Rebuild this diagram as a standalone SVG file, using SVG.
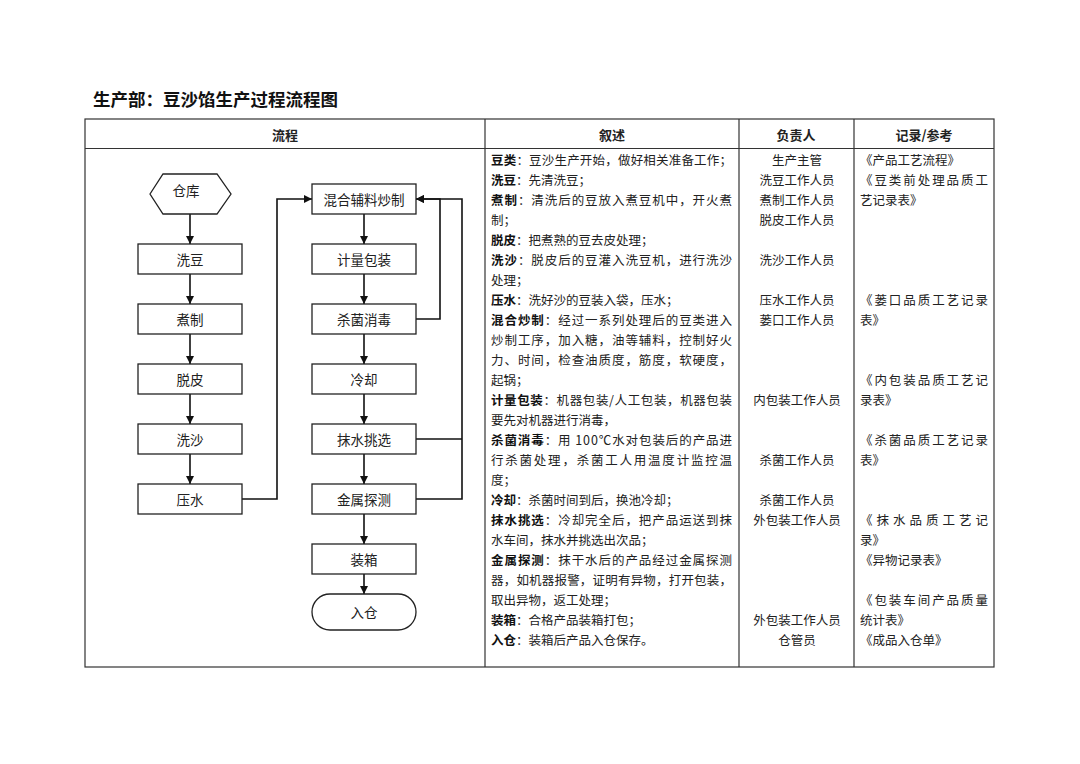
<svg xmlns="http://www.w3.org/2000/svg" width="1080" height="764" viewBox="0 0 1080 764">
<defs>
<marker id="ah" viewBox="0 0 10 10" refX="10" refY="5" markerWidth="8" markerHeight="8" markerUnits="userSpaceOnUse" orient="auto">
<path d="M0,0 L10,5 L0,10 z" fill="#111"/>
</marker>
<style>
text{font-family:"Noto Sans CJK SC","Noto Sans",sans-serif;fill:#222;}
.title{font-size:17.5px;font-weight:bold;fill:#111;}
.hd{font-size:13px;font-weight:bold;text-anchor:middle;dominant-baseline:central;}
.nd{font-size:13.5px;text-anchor:middle;dominant-baseline:central;}
.box{fill:#fff;stroke:#222;stroke-width:1.3;}
.grid{fill:none;stroke:#333;stroke-width:1.2;}
.conn path{fill:none;stroke:#111;stroke-width:1.6;}
.ds{font-size:12.5px;dominant-baseline:central;}
.ds tspan.b{font-weight:bold;fill:#111;}
.rp{font-size:12.5px;text-anchor:middle;dominant-baseline:central;}
.rc{font-size:12.5px;dominant-baseline:central;}
</style>
</defs>
<rect width="1080" height="764" fill="#fff"/>
<text class="title" x="93" y="106">生产部：豆沙馅生产过程流程图</text>

<g id="table">
<rect class="grid" x="85" y="119" width="909" height="548"/>
<line class="grid" x1="85" y1="148.5" x2="994" y2="148.5"/>
<line class="grid" x1="485" y1="119" x2="485" y2="667"/>
<line class="grid" x1="739" y1="119" x2="739" y2="667"/>
<line class="grid" x1="854" y1="119" x2="854" y2="667"/>
<text class="hd" x="285" y="134">流程</text>
<text class="hd" x="612" y="134">叙述</text>
<text class="hd" x="796" y="134">负责人</text>
<text class="hd" x="924" y="134">记录/参考</text>
</g>

<g class="conn" id="connectors">
<path d="M190,214 V244" marker-end="url(#ah)"/>
<path d="M190,274 V304" marker-end="url(#ah)"/>
<path d="M190,334 V364" marker-end="url(#ah)"/>
<path d="M190,394 V424" marker-end="url(#ah)"/>
<path d="M190,454 V484" marker-end="url(#ah)"/>
<path d="M242,499 H277 V199 H312" marker-end="url(#ah)"/>
<path d="M364,214 V244" marker-end="url(#ah)"/>
<path d="M364,274 V304" marker-end="url(#ah)"/>
<path d="M364,334 V364" marker-end="url(#ah)"/>
<path d="M364,394 V424" marker-end="url(#ah)"/>
<path d="M364,454 V484" marker-end="url(#ah)"/>
<path d="M364,514 V544" marker-end="url(#ah)"/>
<path d="M364,574 V594" marker-end="url(#ah)"/>
<path d="M416,319 H440 V199 H416" marker-end="url(#ah)"/>
<path d="M416,499 H462 V199 H416" marker-end="url(#ah)"/>
<path d="M416,439 H462"/>
</g>

<g id="n-cangku"><polygon class="box" points="150,194 163,174 217,174 231,194 217,214 163,214"/><text class="nd" x="186" y="190">仓库</text></g>
<g id="n-xidou"><rect class="box" x="138" y="244" width="104" height="30"/><text class="nd" x="190" y="259">洗豆</text></g>
<g id="n-zhuzhi"><rect class="box" x="138" y="304" width="104" height="30"/><text class="nd" x="190" y="319">煮制</text></g>
<g id="n-tuopi"><rect class="box" x="138" y="364" width="104" height="30"/><text class="nd" x="190" y="379">脱皮</text></g>
<g id="n-xisha"><rect class="box" x="138" y="424" width="104" height="30"/><text class="nd" x="190" y="439">洗沙</text></g>
<g id="n-yashui"><rect class="box" x="138" y="484" width="104" height="30"/><text class="nd" x="190" y="499">压水</text></g>
<g id="n-chaozhi"><rect class="box" x="312" y="184" width="104" height="30"/><text class="nd" x="364" y="199">混合辅料炒制</text></g>
<g id="n-baozhuang"><rect class="box" x="312" y="244" width="104" height="30"/><text class="nd" x="364" y="259">计量包装</text></g>
<g id="n-shajun"><rect class="box" x="312" y="304" width="104" height="30"/><text class="nd" x="364" y="319">杀菌消毒</text></g>
<g id="n-lengque"><rect class="box" x="312" y="364" width="104" height="30"/><text class="nd" x="364" y="379">冷却</text></g>
<g id="n-moshui"><rect class="box" x="312" y="424" width="104" height="30"/><text class="nd" x="364" y="439">抹水挑选</text></g>
<g id="n-jinshu"><rect class="box" x="312" y="484" width="104" height="30"/><text class="nd" x="364" y="499">金属探测</text></g>
<g id="n-zhuangxiang"><rect class="box" x="312" y="544" width="104" height="30"/><text class="nd" x="364" y="559">装箱</text></g>
<g id="n-rucang"><rect class="box" x="312" y="594" width="104" height="36" rx="18" ry="18"/><text class="nd" x="364" y="612">入仓</text></g>

<g id="description">
<text class="ds" x="491" y="159" textLength="241" lengthAdjust="spacing"><tspan class="b">豆类</tspan>：豆沙生产开始，做好相关准备工作；</text>
<text class="ds" x="491" y="179"><tspan class="b">洗豆</tspan>：先清洗豆；</text>
<text class="ds" x="491" y="199" textLength="241" lengthAdjust="spacing"><tspan class="b">煮制</tspan>：清洗后的豆放入煮豆机中，开火煮</text>
<text class="ds" x="491" y="219">制；</text>
<text class="ds" x="491" y="239"><tspan class="b">脱皮</tspan>：把煮熟的豆去皮处理；</text>
<text class="ds" x="491" y="259" textLength="241" lengthAdjust="spacing"><tspan class="b">洗沙</tspan>：脱皮后的豆灌入洗豆机，进行洗沙</text>
<text class="ds" x="491" y="279">处理；</text>
<text class="ds" x="491" y="299"><tspan class="b">压水</tspan>：洗好沙的豆装入袋，压水；</text>
<text class="ds" x="491" y="319" textLength="241" lengthAdjust="spacing"><tspan class="b">混合炒制</tspan>：经过一系列处理后的豆类进入</text>
<text class="ds" x="491" y="339" textLength="241" lengthAdjust="spacing">炒制工序，加入糖，油等辅料，控制好火</text>
<text class="ds" x="491" y="359" textLength="241" lengthAdjust="spacing">力、时间，检查油质度，筋度，软硬度，</text>
<text class="ds" x="491" y="379">起锅；</text>
<text class="ds" x="491" y="399" textLength="241" lengthAdjust="spacing"><tspan class="b">计量包装</tspan>：机器包装/人工包装，机器包装</text>
<text class="ds" x="491" y="419">要先对机器进行消毒，</text>
<text class="ds" x="491" y="439" textLength="241" lengthAdjust="spacing"><tspan class="b">杀菌消毒</tspan>：用 100℃水对包装后的产品进</text>
<text class="ds" x="491" y="459" textLength="241" lengthAdjust="spacing">行杀菌处理，杀菌工人用温度计监控温</text>
<text class="ds" x="491" y="479">度；</text>
<text class="ds" x="491" y="499"><tspan class="b">冷却</tspan>：杀菌时间到后，换池冷却；</text>
<text class="ds" x="491" y="519" textLength="241" lengthAdjust="spacing"><tspan class="b">抹水挑选</tspan>：冷却完全后，把产品运送到抹</text>
<text class="ds" x="491" y="539">水车间，抹水并挑选出次品；</text>
<text class="ds" x="491" y="559" textLength="241" lengthAdjust="spacing"><tspan class="b">金属探测</tspan>：抹干水后的产品经过金属探测</text>
<text class="ds" x="491" y="579" textLength="241" lengthAdjust="spacing">器，如机器报警，证明有异物，打开包装，</text>
<text class="ds" x="491" y="599">取出异物，返工处理；</text>
<text class="ds" x="491" y="619"><tspan class="b">装箱</tspan>：合格产品装箱打包；</text>
<text class="ds" x="491" y="639"><tspan class="b">入仓</tspan>：装箱后产品入仓保存。</text>
</g>

<g id="responsible">
<text class="rp" x="797" y="159">生产主管</text>
<text class="rp" x="797" y="179">洗豆工作人员</text>
<text class="rp" x="797" y="199">煮制工作人员</text>
<text class="rp" x="797" y="219">脱皮工作人员</text>
<text class="rp" x="797" y="259">洗沙工作人员</text>
<text class="rp" x="797" y="299">压水工作人员</text>
<text class="rp" x="797" y="319">蒌口工作人员</text>
<text class="rp" x="797" y="399">内包装工作人员</text>
<text class="rp" x="797" y="459">杀菌工作人员</text>
<text class="rp" x="797" y="499">杀菌工作人员</text>
<text class="rp" x="797" y="519">外包装工作人员</text>
<text class="rp" x="797" y="619">外包装工作人员</text>
<text class="rp" x="797" y="639">仓管员</text>
</g>

<g id="records">
<text class="rc" x="860" y="159">《产品工艺流程》</text>
<text class="rc" x="860" y="179" textLength="128" lengthAdjust="spacing">《豆类前处理品质工</text>
<text class="rc" x="860" y="199">艺记录表》</text>
<text class="rc" x="860" y="299" textLength="128" lengthAdjust="spacing">《蒌口品质工艺记录</text>
<text class="rc" x="860" y="319">表》</text>
<text class="rc" x="860" y="379" textLength="128" lengthAdjust="spacing">《内包装品质工艺记</text>
<text class="rc" x="860" y="399">录表》</text>
<text class="rc" x="860" y="439" textLength="128" lengthAdjust="spacing">《杀菌品质工艺记录</text>
<text class="rc" x="860" y="459">表》</text>
<text class="rc" x="860" y="519" textLength="128" lengthAdjust="spacing">《抹水品质工艺记</text>
<text class="rc" x="860" y="539">录》</text>
<text class="rc" x="860" y="559">《异物记录表》</text>
<text class="rc" x="860" y="599" textLength="128" lengthAdjust="spacing">《包装车间产品质量</text>
<text class="rc" x="860" y="619">统计表》</text>
<text class="rc" x="860" y="639">《成品入仓单》</text>
</g>
</svg>
